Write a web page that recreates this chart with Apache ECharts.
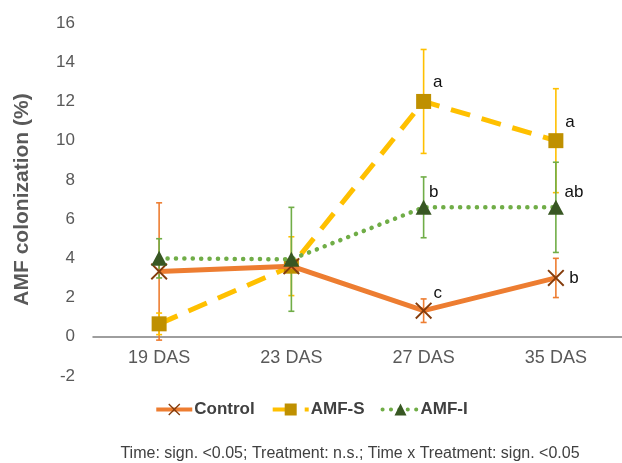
<!DOCTYPE html>
<html><head><meta charset="utf-8">
<script src="https://cdn.jsdelivr.net/npm/echarts@6/dist/echarts.min.js"></script>
<style>html,body{margin:0;padding:0;background:#fff}#c{width:622px;height:463px}</style>
</head><body><div id="c"></div>
<script>
const categories = ['19 DAS', '23 DAS', '27 DAS', '35 DAS'];
const yTicks = [-2, 0, 2, 4, 6, 8, 10, 12, 14, 16];
const controlMean = [3.33, 3.6, 1.33, 3.0];
const controlErr  = [3.5, 0.3, 0.6, 1.0];
const controlSig  = ['', '', 'c', 'b'];
const amfSMean = [0.66, 3.6, 12.0, 10.0];
const amfSErr  = [0.55, 1.5, 2.65, 2.65];
const amfSSig  = ['', '', 'a', 'a'];
const amfIMean = [4.0, 3.95, 6.6, 6.6];
const amfIErr  = [1.0, 2.65, 1.55, 2.3];
const amfISig  = ['', '', 'b', 'ab'];
const footnote = 'Time: sign. <0.05; Treatment: n.s.; Time x Treatment: sign. <0.05';

const FONT = 'Arial, "Liberation Sans", sans-serif';
const xPath = 'path://M0,8 L8,0 L50,42 L92,0 L100,8 L58,50 L100,92 L92,100 L50,58 L8,100 L0,92 L42,50 Z';

function errData(mean, err) {
  return mean.map((m, i) => [i, m - err[i], m + err[i]]);
}
function errSeries(name, mean, err, color) {
  return {
    type: 'custom', name: name + ' err', data: errData(mean, err), z: 1,
    silent: true,
    renderItem: function (params, api) {
      const lo = api.coord([api.value(0), api.value(1)]);
      const hi = api.coord([api.value(0), api.value(2)]);
      const w = 3;
      const st = { stroke: color, lineWidth: 1.6 };
      return { type: 'group', children: [
        { type: 'line', shape: { x1: lo[0], y1: lo[1], x2: hi[0], y2: hi[1] }, style: st },
        { type: 'line', shape: { x1: lo[0] - w, y1: lo[1], x2: lo[0] + w, y2: lo[1] }, style: st },
        { type: 'line', shape: { x1: hi[0] - w, y1: hi[1], x2: hi[0] + w, y2: hi[1] }, style: st }
      ]};
    }
  };
}
function labeled(mean, sig, offsets) {
  return mean.map((v, i) => ({
    value: v,
    label: { show: !!sig[i], formatter: sig[i], position: 'inside', offset: offsets[i],
             color: '#111', fontSize: 17, fontFamily: FONT }
  }));
}
const ctrlOff = [[0,0],[0,0],[14,-17],[18,0]];
const sOff = [[0,0],[0,0],[14,-19],[14,-18]];
const iOff = [[0,0],[0,0],[10,-15],[18,-15]];

const chart = echarts.init(document.getElementById('c'));
chart.setOption({
  animation: false,
  backgroundColor: '#fff',
  grid: { left: 93, width: 530, top: 23, bottom: 87 },
  title: { text: footnote, left: 345, textAlign: 'center', top: 441,
           textStyle: { fontSize: 16, fontWeight: 'normal', color: '#404040', fontFamily: FONT } },
  legend: {
    data: ['Control', 'AMF-S', 'AMF-I'], left: 'center', top: 396,
    itemWidth: 36, itemHeight: 15, itemGap: 16,
    lineStyle: { width: 4 },
    textStyle: { fontSize: 17, fontWeight: 'bold', color: '#404040', fontFamily: FONT, padding: [0,0,0,-3] }
  },
  xAxis: {
    type: 'category', data: categories, boundaryGap: true,
    axisLine: { onZero: true, lineStyle: { color: '#7f7f7f', width: 1.5 } },
    axisTick: { show: false },
    axisLabel: { fontSize: 18, color: '#595959', fontFamily: FONT, margin: -27 },
    splitLine: { show: false }
  },
  yAxis: {
    type: 'value', min: -2, max: 16, interval: 2,
    axisLine: { show: false }, axisTick: { show: false }, splitLine: { show: false },
    axisLabel: { fontSize: 17, color: '#595959', fontFamily: FONT, margin: 18,
                 formatter: v => yTicks.includes(v) ? String(v) : '' },
    name: 'AMF colonization (%)', nameLocation: 'middle', nameGap: 60,
    nameTextStyle: { fontSize: 21, fontWeight: 'bold', color: '#595959', fontFamily: FONT }
  },
  series: [
    errSeries('Control', controlMean, controlErr, '#ED7D31'),
    errSeries('AMF-S', amfSMean, amfSErr, '#FFC000'),
    errSeries('AMF-I', amfIMean, amfIErr, '#70AD47'),
    {
      name: 'AMF-S', type: 'line', data: labeled(amfSMean, amfSSig, sOff), z: 3,
      symbol: 'rect', symbolSize: 15,
      lineStyle: { color: '#FFC000', width: 5, type: [20, 12] },
      itemStyle: { color: '#BF9000' }
    },
    {
      name: 'Control', type: 'line', data: labeled(controlMean, controlSig, ctrlOff), z: 4,
      symbol: xPath, symbolSize: 17,
      lineStyle: { color: '#ED7D31', width: 5 },
      itemStyle: { color: '#843C0C' }
    },
    {
      name: 'AMF-I', type: 'line', data: labeled(amfIMean, amfISig, iOff), z: 5,
      symbol: 'triangle', symbolSize: [16, 15],
      lineStyle: { color: '#70AD47', width: 4.5, type: [0.1, 8.3], cap: 'round' },
      itemStyle: { color: '#385723' }
    }
  ]
});
</script></body></html>
